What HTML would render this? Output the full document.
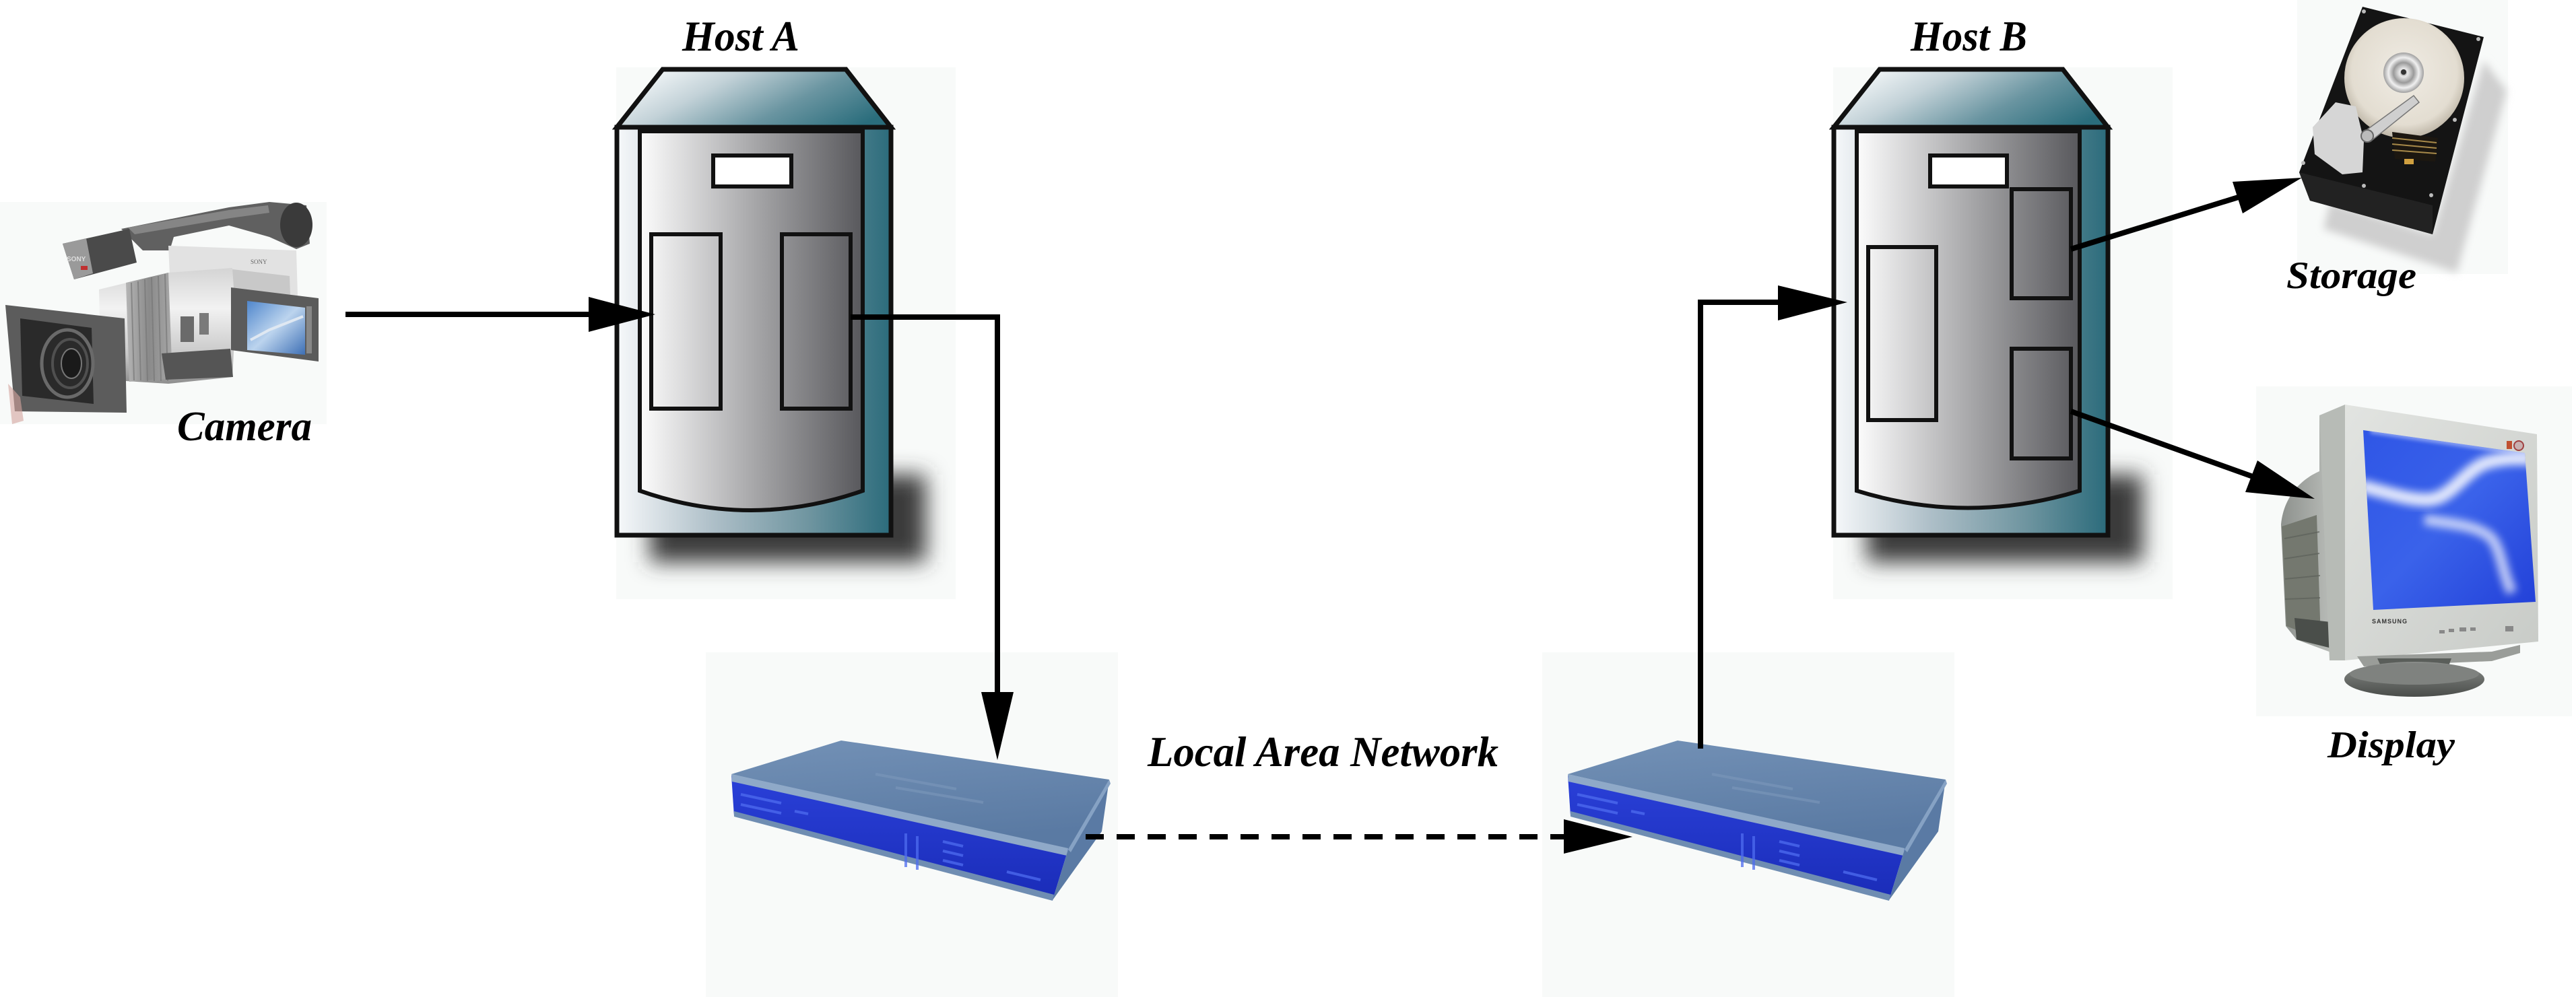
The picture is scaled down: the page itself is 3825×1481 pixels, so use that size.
<!DOCTYPE html>
<html>
<head>
<meta charset="utf-8">
<style>
  html, body { margin: 0; padding: 0; background: #ffffff; }
  body { width: 3825px; height: 1481px; overflow: hidden; }
  svg { display: block; }
  .lbl { font-family: "Liberation Serif", "Times New Roman", serif; font-weight: bold; font-style: italic; fill: #000; }
</style>
</head>
<body>
<svg width="3825" height="1481" viewBox="0 0 3825 1481" xmlns="http://www.w3.org/2000/svg">
  <defs>
    <linearGradient id="gBody" x1="0" y1="0" x2="1" y2="0">
      <stop offset="0" stop-color="#f6f8fa"/>
      <stop offset="0.35" stop-color="#aebfc8"/>
      <stop offset="0.7" stop-color="#6f95a0"/>
      <stop offset="1" stop-color="#2b6b7b"/>
    </linearGradient>
    <linearGradient id="gTop" x1="0" y1="0.3" x2="1" y2="0.7">
      <stop offset="0" stop-color="#f6f9fa"/>
      <stop offset="0.3" stop-color="#c3d2d8"/>
      <stop offset="0.65" stop-color="#6a95a1"/>
      <stop offset="1" stop-color="#2a6d7c"/>
    </linearGradient>
    <linearGradient id="gPanel" x1="0" y1="0" x2="1" y2="0">
      <stop offset="0" stop-color="#fcfcfc"/>
      <stop offset="0.5" stop-color="#a9a9ab"/>
      <stop offset="1" stop-color="#58585c"/>
    </linearGradient>
    <filter id="blurS" x="-30%" y="-60%" width="160%" height="220%">
      <feGaussianBlur stdDeviation="16"/>
    </filter>
    <filter id="blur6" x="-30%" y="-30%" width="160%" height="160%">
      <feGaussianBlur stdDeviation="6"/>
    </filter>
    <filter id="blur3" x="-30%" y="-30%" width="160%" height="160%">
      <feGaussianBlur stdDeviation="3"/>
    </filter>
    <linearGradient id="gSwTop" x1="0" y1="0" x2="0.3" y2="1">
      <stop offset="0" stop-color="#7391b6"/>
      <stop offset="1" stop-color="#5a7aa3"/>
    </linearGradient>
    <linearGradient id="gSwFront" x1="0" y1="0" x2="0" y2="1">
      <stop offset="0" stop-color="#2a40d8"/>
      <stop offset="1" stop-color="#1a2cb8"/>
    </linearGradient>
    <linearGradient id="gBarrel" x1="0" y1="0" x2="0" y2="1">
      <stop offset="0" stop-color="#d4d4d4"/>
      <stop offset="0.35" stop-color="#f2f2f2"/>
      <stop offset="0.75" stop-color="#c8c8c8"/>
      <stop offset="1" stop-color="#8e8e8e"/>
    </linearGradient>
    <linearGradient id="gRing" x1="0" y1="0" x2="1" y2="0">
      <stop offset="0" stop-color="#b5b5b5"/>
      <stop offset="0.5" stop-color="#8a8a8a"/>
      <stop offset="1" stop-color="#a8a8a8"/>
    </linearGradient>
    <linearGradient id="gLcd" x1="0" y1="0" x2="1" y2="1">
      <stop offset="0" stop-color="#4f86cc"/>
      <stop offset="0.5" stop-color="#bcd4ee"/>
      <stop offset="1" stop-color="#3d6fb5"/>
    </linearGradient>
    <radialGradient id="gPlatter" cx="0.5" cy="0.45" r="0.55">
      <stop offset="0" stop-color="#f0ece4"/>
      <stop offset="0.8" stop-color="#e3ddd1"/>
      <stop offset="1" stop-color="#bfb7a8"/>
    </radialGradient>
    <radialGradient id="gSpindle" cx="0.5" cy="0.5" r="0.5">
      <stop offset="0" stop-color="#6a6a6a"/>
      <stop offset="0.2" stop-color="#e8e8e8"/>
      <stop offset="0.5" stop-color="#9a9a9a"/>
      <stop offset="0.75" stop-color="#f0f0f0"/>
      <stop offset="1" stop-color="#a0a0a0"/>
    </radialGradient>
    <linearGradient id="gBezel" x1="0" y1="0" x2="1" y2="1">
      <stop offset="0" stop-color="#e2e4e1"/>
      <stop offset="1" stop-color="#c8cbc7"/>
    </linearGradient>
    <linearGradient id="gScreen" x1="0" y1="0" x2="1" y2="1">
      <stop offset="0" stop-color="#2f56e6"/>
      <stop offset="0.5" stop-color="#3a62ea"/>
      <stop offset="1" stop-color="#2240d8"/>
    </linearGradient>
    <linearGradient id="gBack" x1="0" y1="0" x2="1" y2="0">
      <stop offset="0" stop-color="#8d918d"/>
      <stop offset="1" stop-color="#c4c7c3"/>
    </linearGradient>
    <linearGradient id="gStand" x1="0" y1="0" x2="0" y2="1">
      <stop offset="0" stop-color="#8a8d8a"/>
      <stop offset="1" stop-color="#4a4d4a"/>
    </linearGradient>
    <clipPath id="scrClip">
      <polygon points="3509,639 3749,673 3765,894 3524,906"/>
    </clipPath>
  </defs>

  <!-- ============ light image backgrounds ============ -->
  <rect x="0" y="300" width="485" height="330" fill="#f8faf9"/>
  <rect x="915" y="100" width="504" height="790" fill="#f8faf9"/>
  <rect x="2722" y="100" width="504" height="790" fill="#f8faf9"/>
  <rect x="3411" y="0" width="313" height="407" fill="#f8faf9"/>
  <rect x="3350" y="574" width="469" height="490" fill="#f8faf9"/>

  <!-- ============ HOST A ============ -->
  <g id="hostA">
    <rect x="965" y="705" width="410" height="130" fill="#3a3a3a" filter="url(#blurS)"/>
    <polygon points="984,103 1256,103 1323,189 916,189" fill="url(#gTop)" stroke="#111" stroke-width="7" stroke-linejoin="miter"/>
    <rect x="916" y="189" width="407" height="606" fill="url(#gBody)" stroke="#111" stroke-width="7"/>
    <path d="M950,195 L1281,195 L1281,729 Q1115,787 950,729 Z" fill="url(#gPanel)" stroke="#111" stroke-width="6"/>
    <rect x="1059" y="231" width="116" height="46" fill="#ffffff" stroke="#111" stroke-width="6"/>
  </g>
  <rect x="967" y="348" width="103" height="259" fill="none" stroke="#111" stroke-width="6"/>
  <rect x="1161" y="348" width="102" height="259" fill="none" stroke="#111" stroke-width="6"/>

  <!-- ============ HOST B ============ -->
  <g transform="translate(1807,0)">
    <rect x="965" y="705" width="410" height="130" fill="#3a3a3a" filter="url(#blurS)"/>
    <polygon points="984,103 1256,103 1323,189 916,189" fill="url(#gTop)" stroke="#111" stroke-width="7"/>
    <rect x="916" y="189" width="407" height="606" fill="url(#gBody)" stroke="#111" stroke-width="7"/>
    <path d="M950,195 L1281,195 L1281,729 Q1115,780 950,729 Z" fill="url(#gPanel)" stroke="#111" stroke-width="6"/>
    <rect x="1059" y="231" width="114" height="46" fill="#ffffff" stroke="#111" stroke-width="6"/>
  </g>
  <rect x="2774" y="367" width="101" height="257" fill="none" stroke="#111" stroke-width="6"/>
  <rect x="2987" y="281" width="88" height="162" fill="none" stroke="#111" stroke-width="6"/>
  <rect x="2987" y="518" width="88" height="163" fill="none" stroke="#111" stroke-width="6"/>

  <!-- ============ SWITCHES ============ -->
  <g id="sw">
    <rect x="1048" y="969" width="612" height="512" fill="#f8faf9"/>
    <polygon points="1086,1150 1249,1100 1647,1158 1586,1262" fill="url(#gSwTop)"/>
    <polygon points="1086,1152 1586,1262 1563,1337 1090,1212" fill="url(#gSwFront)"/>
    <polygon points="1086,1150 1586,1260 1584,1271 1087,1161" fill="#8fa9c8"/>
    <polygon points="1090,1205 1565,1329 1563,1338 1090,1213" fill="#6f8db2"/>
    <polygon points="1586,1262 1647,1158 1636,1235 1563,1337" fill="#5a7aa4"/>
    <polygon points="1586,1262 1647,1158 1649,1164 1590,1266" fill="#86a2c4"/>
    <g stroke="#7c98bb" stroke-width="4" opacity="0.6" fill="none">
      <line x1="1300" y1="1150" x2="1420" y2="1172"/>
      <line x1="1330" y1="1170" x2="1460" y2="1192"/>
    </g>
    <g stroke="#4e6cf0" stroke-width="4" opacity="0.75">
      <line x1="1100" y1="1180" x2="1160" y2="1193"/>
      <line x1="1100" y1="1195" x2="1160" y2="1208"/>
      <line x1="1180" y1="1205" x2="1200" y2="1209"/>
      <line x1="1345" y1="1238" x2="1345" y2="1288"/>
      <line x1="1362" y1="1242" x2="1362" y2="1292"/>
      <line x1="1400" y1="1250" x2="1430" y2="1257"/>
      <line x1="1400" y1="1264" x2="1430" y2="1271"/>
      <line x1="1400" y1="1278" x2="1430" y2="1285"/>
      <line x1="1495" y1="1295" x2="1545" y2="1307"/>
    </g>
  </g>
  <use href="#sw" transform="translate(1242,0)"/>

  <!-- ============ CAMERA ============ -->
  <g id="camera">
    <!-- handle / top -->
    <path d="M180,340 L340,308 L400,300 L455,305 L460,362 L440,370 L400,352 L340,335 L258,352 L252,372 L212,372 Z" fill="#606060"/>
    <path d="M190,338 L340,312 L398,305 L400,316 L342,324 L200,348 Z" fill="#858585"/>
    <!-- mic -->
    <polygon points="93,362 192,340 203,390 110,415" fill="#4a4a4a"/>
    <polygon points="93,362 128,354 138,406 110,415" fill="#9a9a9a"/>
    <text x="99" y="388" font-family="Liberation Sans, sans-serif" font-size="10" font-weight="bold" fill="#ddd">SONY</text>
    <rect x="120" y="395" width="10" height="6" fill="#c03030"/>
    <!-- eyepiece -->
    <ellipse cx="440" cy="334" rx="24" ry="33" fill="#3a3a3a"/>
    <!-- right body -->
    <polygon points="250,365 440,372 442,440 432,470 345,482 255,472" fill="#e2e2e2"/>
    <polygon points="345,400 430,410 432,470 345,480" fill="#c8c8c8"/>
    <text x="372" y="392" font-family="Liberation Serif, serif" font-size="9" fill="#666">SONY</text>
    <!-- barrel -->
    <polygon points="147,430 250,405 345,398 350,470 345,560 250,570 187,566 150,560" fill="url(#gBarrel)"/>
    <polygon points="187,420 250,405 256,562 192,567" fill="url(#gRing)"/>
    <g stroke="#777" stroke-width="2" opacity="0.7">
      <line x1="195" y1="420" x2="199" y2="565"/>
      <line x1="205" y1="418" x2="209" y2="565"/>
      <line x1="215" y1="415" x2="219" y2="566"/>
      <line x1="225" y1="412" x2="229" y2="566"/>
      <line x1="235" y1="410" x2="239" y2="566"/>
      <line x1="245" y1="407" x2="249" y2="566"/>
    </g>
    <rect x="268" y="470" width="20" height="38" fill="#6a6a6a"/>
    <rect x="296" y="465" width="14" height="32" fill="#7a7a7a"/>
    <!-- grip bottom -->
    <polygon points="240,525 342,518 346,560 246,564" fill="#555"/>
    <!-- lens hood -->
    <polygon points="8,453 185,473 188,613 22,611" fill="#5c5c5c"/>
    <polygon points="30,473 136,487 139,600 33,588" fill="#2a2a2a"/>
    <ellipse cx="100" cy="540" rx="38" ry="50" fill="none" stroke="#6a6a6a" stroke-width="5"/>
    <ellipse cx="104" cy="540" rx="26" ry="36" fill="none" stroke="#505050" stroke-width="4"/>
    <ellipse cx="106" cy="540" rx="15" ry="22" fill="#1a1a1a" stroke="#777" stroke-width="2"/>
    <polygon points="12,570 30,590 35,625 18,630" fill="#d4a49c" opacity="0.6"/>
    <!-- LCD -->
    <polygon points="343,427 473,443 473,537 343,520" fill="#5b5b5b"/>
    <polygon points="367,447 453,457 453,527 367,520" fill="url(#gLcd)"/>
    <polyline points="372,505 400,490 450,470" fill="none" stroke="#dfe8f2" stroke-width="4"/>
    <rect x="455" y="455" width="8" height="70" fill="#888"/>
  </g>

  <!-- ============ STORAGE (hard drive) ============ -->
  <g id="storage">
    <polygon points="3688,90 3722,135 3648,405 3450,340 3460,300 3612,348" fill="#cfcfcf" filter="url(#blur6)"/>
    <polygon points="3508,10 3688,55 3612,348 3430,298 3414,256" fill="#141414"/>
    <polygon points="3414,256 3612,305 3612,348 3430,298" fill="#222"/>
    <circle cx="3570" cy="116" r="89" fill="url(#gPlatter)"/>
    <circle cx="3569" cy="108" r="30" fill="url(#gSpindle)"/>
    <circle cx="3569" cy="107" r="4" fill="#333"/>
    <polygon points="3552,196 3620,205 3616,240 3556,236" fill="#1c1710"/>
    <g stroke="#a88a4a" stroke-width="2">
      <line x1="3552" y1="205" x2="3618" y2="212"/>
      <line x1="3552" y1="214" x2="3618" y2="220"/>
      <line x1="3552" y1="223" x2="3618" y2="228"/>
    </g>
    <rect x="3570" y="236" width="14" height="8" fill="#d0a040"/>
    <polygon points="3434,189 3468,152 3498,158 3510,209 3508,256 3478,259 3437,229" fill="#d6d6d6"/>
    <polygon points="3510,196 3584,142 3592,152 3520,210" fill="#cfcfcf" stroke="#777" stroke-width="1.5"/>
    <circle cx="3515" cy="202" r="9" fill="#bbb" stroke="#666" stroke-width="2"/>
    <g fill="#bbb">
      <circle cx="3510" cy="17" r="3"/><circle cx="3680" cy="58" r="3"/>
      <circle cx="3645" cy="178" r="3"/><circle cx="3610" cy="290" r="3"/>
      <circle cx="3420" cy="242" r="3"/><circle cx="3510" cy="276" r="3"/>
    </g>
  </g>

  <!-- ============ DISPLAY (monitor) ============ -->
  <g id="display">
    <path d="M3444,700 C3410,715 3390,745 3387,779 L3394,930 L3410,950 L3461,969 L3482,969 L3482,610 L3444,617 Z" fill="url(#gBack)"/>
    <polygon points="3388,782 3440,765 3446,950 3395,930" fill="#74786f"/>
    <g stroke="#5c605a" stroke-width="2" opacity="0.7">
      <line x1="3392" y1="800" x2="3444" y2="790"/>
      <line x1="3392" y1="830" x2="3444" y2="822"/>
      <line x1="3393" y1="860" x2="3445" y2="855"/>
      <line x1="3393" y1="890" x2="3445" y2="888"/>
    </g>
    <polygon points="3407,918 3470,925 3470,965 3410,950" fill="#4a4e4a"/>
    <polygon points="3444,617 3482,601 3482,981 3459,981" fill="#b7bbb6"/>
    <polygon points="3482,601 3767,645 3769,953 3482,981" fill="url(#gBezel)"/>
    <polygon points="3509,639 3749,673 3765,894 3524,906" fill="url(#gScreen)"/>
    <g clip-path="url(#scrClip)">
      <path d="M3505,722 C3540,730 3580,745 3610,742 C3640,738 3660,700 3690,688 C3715,680 3740,680 3760,682" fill="none" stroke="#ffffff" stroke-width="20" opacity="0.85" filter="url(#blur6)"/>
      <path d="M3600,772 C3640,778 3680,780 3700,800 C3715,820 3715,850 3730,880" fill="none" stroke="#ffffff" stroke-width="16" opacity="0.7" filter="url(#blur6)"/>
      <path d="M3520,640 L3760,675" fill="none" stroke="#dfe6ff" stroke-width="8" opacity="0.5" filter="url(#blur3)"/>
    </g>
    <rect x="3722" y="655" width="8" height="12" fill="#c05030"/>
    <circle cx="3740" cy="662" r="7" fill="#c8b0b0" stroke="#a04040" stroke-width="2"/>
    <text x="3522" y="926" font-family="Liberation Sans, sans-serif" font-size="9" font-weight="bold" fill="#333" letter-spacing="1">SAMSUNG</text>
    <g fill="#888">
      <rect x="3622" y="936" width="8" height="5"/><rect x="3636" y="934" width="8" height="5"/>
      <rect x="3652" y="932" width="10" height="6"/><rect x="3668" y="932" width="8" height="5"/>
      <rect x="3720" y="930" width="12" height="8"/>
    </g>
    <polygon points="3500,975 3700,968 3742,958 3742,970 3700,982 3510,990" fill="#9a9d99"/>
    <polygon points="3530,978 3640,978 3632,1000 3540,1000" fill="#5a5e5a"/>
    <ellipse cx="3585" cy="1009" rx="104" ry="26" fill="url(#gStand)"/>
    <ellipse cx="3585" cy="1001" rx="96" ry="16" fill="#7f827f"/>
  </g>

  <!-- ============ CONNECTORS ============ -->
  <g stroke="#000" stroke-width="8" fill="none" stroke-linecap="butt" stroke-linejoin="miter">
    <line x1="513" y1="467" x2="880" y2="467"/>
    <polyline points="1263,471 1481,471 1481,1035"/>
    <line x1="1612" y1="1243" x2="2326" y2="1243" stroke-dasharray="27,19"/>
    <polyline points="2525,1112 2525,449 2645,449"/>
    <line x1="3075" y1="370" x2="3330" y2="291"/>
    <line x1="3075" y1="611" x2="3348" y2="709"/>
  </g>
  <g fill="#000">
    <polygon points="874,441 973,467 874,493"/>
    <polygon points="1457,1028 1505,1028 1481,1129"/>
    <polygon points="2322,1217 2424,1243 2322,1268"/>
    <polygon points="2640,424 2743,449 2640,476"/>
    <polygon points="3330,317 3418,264 3315,270"/>
    <polygon points="3334,731 3437,741 3352,684"/>
  </g>

  <!-- ============ LABELS ============ -->
  <text class="lbl" x="1013" y="75" font-size="64" textLength="174" lengthAdjust="spacingAndGlyphs">Host A</text>
  <text class="lbl" x="2837" y="75" font-size="64" textLength="173" lengthAdjust="spacingAndGlyphs">Host B</text>
  <text class="lbl" x="263" y="654" font-size="62" textLength="200" lengthAdjust="spacingAndGlyphs">Camera</text>
  <text class="lbl" x="1704" y="1138" font-size="63" textLength="521" lengthAdjust="spacingAndGlyphs">Local Area Network</text>
  <text class="lbl" x="3395" y="428" font-size="57" textLength="193" lengthAdjust="spacingAndGlyphs">Storage</text>
  <text class="lbl" x="3456" y="1125" font-size="56" textLength="189" lengthAdjust="spacingAndGlyphs">Display</text>
</svg>
</body>
</html>
